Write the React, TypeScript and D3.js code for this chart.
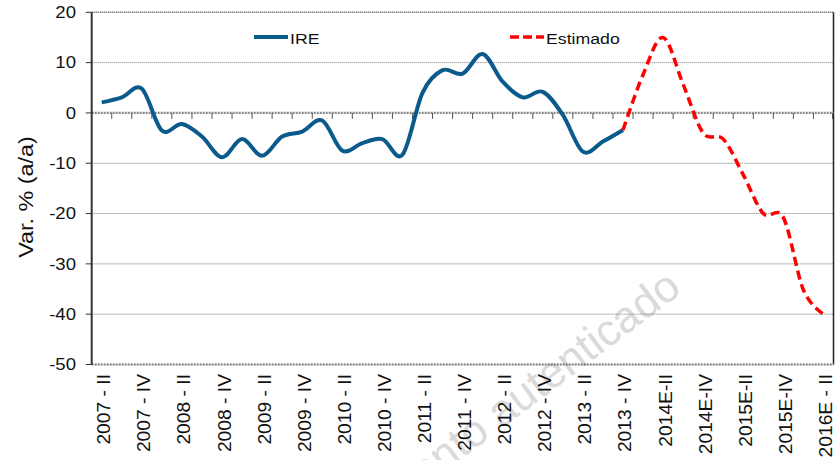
import * as d3 from "d3";

// quarters on the category axis
const quarters = [
  "2007 - II", "2007 - III", "2007 - IV",
  "2008 - I", "2008 - II", "2008 - III", "2008 - IV",
  "2009 - I", "2009 - II", "2009 - III", "2009 - IV",
  "2010 - I", "2010 - II", "2010 - III", "2010 - IV",
  "2011 - I", "2011 - II", "2011 - III", "2011 - IV",
  "2012 - I", "2012 - II", "2012 - III", "2012 - IV",
  "2013 - I", "2013 - II", "2013 - III", "2013 - IV",
  "2014E-I", "2014E-II", "2014E-III", "2014E-IV",
  "2015E-I", "2015E-II", "2015E-III", "2015E-IV",
  "2016E-I", "2016E - II",
];

// only every second quarter is labelled
const tickLabels = [
  "2007 - II", "2007 - IV", "2008 - II", "2008 - IV", "2009 - II", "2009 - IV",
  "2010 - II", "2010 - IV", "2011 - II", "2011 - IV", "2012 - II", "2012 - IV",
  "2013 - II", "2013 - IV", "2014E-II", "2014E-IV", "2015E-II", "2015E-IV",
  "2016E - II",
];

// IRE, observed (2007-II .. 2013-IV)
const ireValues = [
  2.1, 3.1, 4.8, -3.5, -2.2, -4.7, -8.8, -5.2, -8.5, -4.7, -3.7, -1.5, -7.5,
  -6.0, -5.2, -8.3, 4.0, 8.5, 7.8, 11.7, 6.2, 3.1, 4.2, -0.4, -7.7, -5.7, -3.4,
];

// estimated (2013-IV .. 2016E-II)
const estValues = [-3.4, 7.6, 15.0, 5.7, -4.0, -5.2, -12.3, -20.0, -20.8, -35.2, -40.0];

const yTicks = [20, 10, 0, -10, -20, -30, -40, -50];

const width = 835;
const height = 460;
const left = 91.7;
const right = 833.5;
const top = 12.3;
const bottom = 364.5;

const font = "'Liberation Sans', Arial, Helvetica, sans-serif";
const blue = "#0a5a8c";
const red = "#ff0000";

export default function App() {
  const x = d3.scaleBand<string>().domain(quarters).range([left, right]);
  const y = d3.scaleLinear().domain([-50, 20]).range([bottom, top]);
  const cx = (q: string) => (x(q) as number) + x.bandwidth() / 2;

  const ireData = ireValues.map((v, i) => ({ q: quarters[i], v }));
  const estStart = ireValues.length - 1;
  const estData = estValues.map((v, i) => ({ q: quarters[estStart + i], v }));

  const line = d3
    .line<{ q: string; v: number }>()
    .x((d) => cx(d.q))
    .y((d) => y(d.v))
    .curve(d3.curveCardinal.tension(0));

  return (
    <svg
      width={width}
      height={height}
      style={{ position: "absolute", left: 0, top: 0, background: "#fff" }}
      fontFamily={font}
    >
      {/* watermark */}
      <text
        transform="translate(683,292) rotate(-37)"
        textAnchor="end"
        fontSize={44}
        fill="#dadada"
      >
        Documento autenticado
      </text>

      {/* gridlines */}
      {yTicks
        .filter((t) => t !== 0 && t !== -50 && t !== 20)
        .map((t) => (
          <line
            key={t}
            x1={left}
            x2={right}
            y1={y(t)}
            y2={y(t)}
            stroke="#777"
            strokeWidth={1}
            strokeDasharray="1 1"
          />
        ))}

      {/* frame */}
      <line x1={left} x2={right} y1={top} y2={top} stroke="#444" strokeWidth={1.5} strokeDasharray="1 1" />
      <line x1={right} x2={right} y1={top} y2={bottom} stroke="#222" strokeWidth={1.5} />
      <line x1={left} x2={right} y1={bottom} y2={bottom} stroke="#777" strokeWidth={2.2} strokeDasharray="2 1" />

      {/* zero line (category axis) */}
      <line x1={left} x2={right} y1={y(0)} y2={y(0)} stroke="#888" strokeWidth={2.2} strokeDasharray="2 1" />
      {quarters.slice(1).map((q) => (
        <line key={q} x1={x(q)} x2={x(q)} y1={y(0)} y2={y(0) + 6} stroke="#555" strokeWidth={1} />
      ))}
      <line x1={right - 1} x2={right - 1} y1={y(0)} y2={y(0) + 6} stroke="#555" strokeWidth={1} />

      {/* y axis */}
      <line x1={left} x2={left} y1={top} y2={bottom} stroke="#333" strokeWidth={2} />
      {yTicks.map((t) => (
        <g key={t}>
          <line x1={left - 6} x2={left} y1={y(t)} y2={y(t)} stroke="#333" strokeWidth={1} />
          <text
            transform={`translate(76,${y(t)}) scale(1.16,1)`}
            dy="0.36em"
            textAnchor="end"
            fontSize={16}
            fill="#111"
          >
            {t}
          </text>
        </g>
      ))}

      {/* y title */}
      <text
        transform="translate(33,197) rotate(-90) scale(1.17,1)"
        textAnchor="middle"
        fontSize={20}
        fill="#111"
      >
        Var. % (a/a)
      </text>

      {/* x labels */}
      {tickLabels.map((t, i) => {
        const q = quarters[i * 2];
        return (
          <text
            key={t}
            transform={`translate(${cx(q) + 8.5},374) rotate(-90) scale(1.07,1)`}
            textAnchor="end"
            fontSize={18}
            fill="#111"
          >
            {t}
          </text>
        );
      })}

      {/* series */}
      <path d={line(ireData) ?? ""} fill="none" stroke={blue} strokeWidth={4} strokeLinejoin="round" />
      <path
        d={line(estData) ?? ""}
        fill="none"
        stroke={red}
        strokeWidth={3.5}
        strokeDasharray="9 5"
      />

      {/* legend */}
      <line x1={254} x2={288} y1={37} y2={37} stroke={blue} strokeWidth={4} />
      <text transform="translate(290,44) scale(1.18,1)" fontSize={15} fill="#111">IRE</text>
      <line x1={510} x2={544} y1={37} y2={37} stroke={red} strokeWidth={3.5} strokeDasharray="9 4" />
      <text transform="translate(546,44) scale(1.18,1)" fontSize={15} fill="#111">Estimado</text>
    </svg>
  );
}
